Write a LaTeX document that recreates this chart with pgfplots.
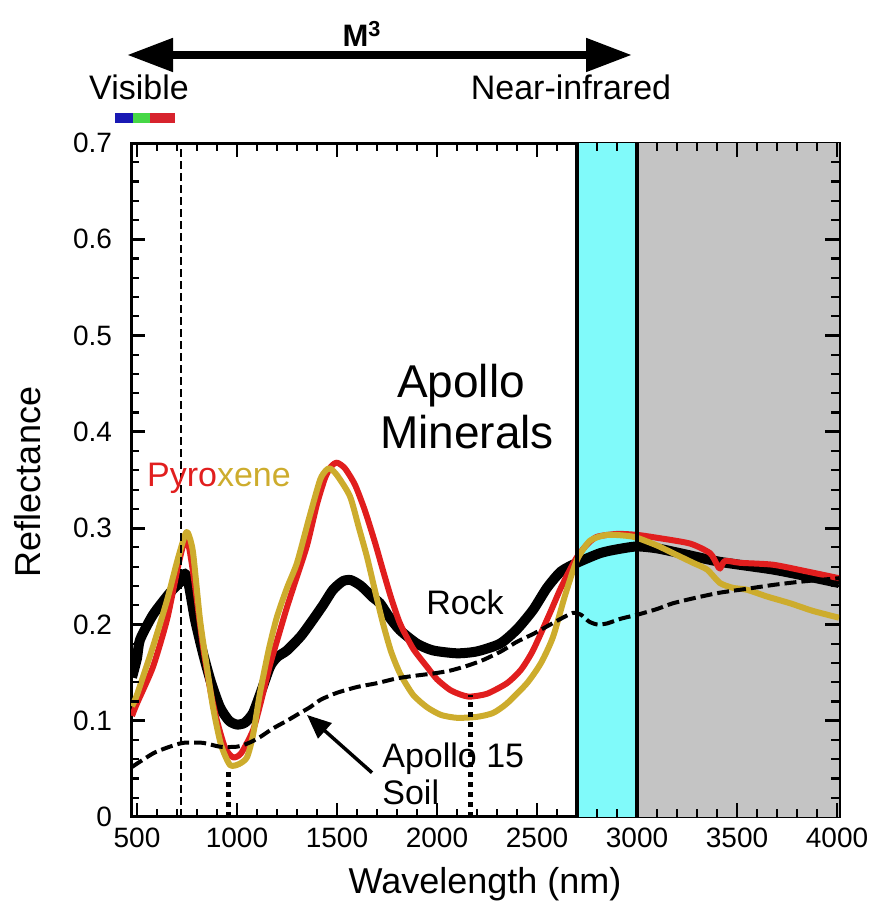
\documentclass[border=0pt]{standalone}
\usepackage{pgfplots}
\pgfplotsset{compat=1.18}
\usepackage{fontspec}
\setmainfont{Liberation Sans}
\usetikzlibrary{arrows.meta}
\definecolor{pyrA}{RGB}{225,30,30}
\definecolor{pyrB}{RGB}{205,172,45}
\definecolor{bandcyan}{RGB}{128,250,250}
\definecolor{bandgray}{RGB}{196,196,196}
\definecolor{visblue}{RGB}{25,25,180}
\definecolor{visgreen}{RGB}{70,215,70}
\definecolor{visred}{RGB}{215,35,45}

\pgfplotstableread{
x y
475 0.105
500 0.118
580 0.156
650 0.205
700 0.255
735 0.285
760 0.280
790 0.240
830 0.177
870 0.128
900 0.100
940 0.072
980 0.062
1020 0.066
1080 0.090
1120 0.120
1165 0.158
1210 0.190
1250 0.218
1300 0.250
1350 0.282
1400 0.325
1440 0.352
1470 0.364
1500 0.368
1540 0.362
1590 0.345
1640 0.318
1690 0.285
1730 0.256
1770 0.228
1815 0.201
1880 0.175
1950 0.156
2000 0.143
2065 0.132
2120 0.127
2165 0.125
2250 0.128
2350 0.139
2420 0.153
2480 0.173
2565 0.212
2615 0.236
2660 0.255
2700 0.270
2750 0.283
2800 0.291
2900 0.294
3000 0.293
3100 0.290
3265 0.284
3365 0.274
3400 0.262
3415 0.258
3440 0.266
3515 0.264
3680 0.262
3850 0.255
4010 0.248
}\tabpyrA

\pgfplotstableread{
x y
475 0.115
500 0.127
580 0.177
650 0.225
700 0.265
740 0.293
755 0.295
780 0.275
815 0.205
850 0.155
880 0.114
920 0.075
965 0.054
1010 0.055
1050 0.062
1080 0.085
1115 0.129
1160 0.175
1200 0.208
1250 0.238
1300 0.264
1360 0.310
1415 0.350
1445 0.360
1465 0.362
1500 0.355
1565 0.333
1610 0.300
1650 0.270
1690 0.235
1730 0.201
1770 0.172
1815 0.149
1880 0.127
1950 0.114
2020 0.106
2100 0.103
2200 0.104
2280 0.108
2350 0.118
2450 0.139
2520 0.160
2580 0.187
2640 0.230
2700 0.267
2765 0.287
2850 0.293
2950 0.292
3000 0.290
3100 0.282
3180 0.274
3280 0.264
3350 0.257
3415 0.243
3480 0.238
3550 0.236
3650 0.229
3765 0.222
3880 0.214
4010 0.207
}\tabpyrB

\pgfplotstableread{
x y
475 0.145
500 0.165
515 0.184
580 0.210
665 0.233
720 0.245
740 0.253
760 0.240
790 0.205
830 0.170
870 0.140
915 0.114
960 0.100
1000 0.096
1040 0.098
1080 0.108
1120 0.130
1165 0.156
1200 0.166
1250 0.173
1320 0.188
1380 0.205
1430 0.220
1480 0.236
1530 0.245
1570 0.246
1620 0.240
1680 0.228
1715 0.222
1760 0.208
1815 0.194
1900 0.180
1980 0.173
2100 0.170
2200 0.172
2315 0.180
2400 0.195
2480 0.215
2550 0.238
2620 0.255
2700 0.264
2815 0.274
2900 0.278
3000 0.281
3100 0.279
3215 0.274
3415 0.265
3680 0.257
3850 0.250
4010 0.243
}\tabrock

\pgfplotstableread{
x y
475 0.052
580 0.066
650 0.072
730 0.077
830 0.077
915 0.073
1000 0.073
1060 0.077
1115 0.083
1180 0.092
1250 0.100
1315 0.108
1365 0.114
1420 0.122
1500 0.129
1600 0.135
1700 0.139
1800 0.144
1900 0.147
1980 0.149
2065 0.152
2150 0.157
2230 0.163
2320 0.172
2400 0.182
2480 0.190
2550 0.198
2620 0.206
2680 0.212
2720 0.210
2760 0.203
2800 0.200
2850 0.201
2920 0.206
3000 0.210
3100 0.216
3180 0.222
3300 0.228
3415 0.233
3550 0.237
3680 0.241
3800 0.244
3900 0.246
4010 0.248
}\tabsoil

\begin{document}
\begin{tikzpicture}
\begin{axis}[
  name=ax,
  at={(65.5pt,46pt)}, anchor=south west,
  scale only axis, width=354pt, height=337pt,
  xmin=470, xmax=4010, ymin=0, ymax=0.7,
  xtick={500,1000,1500,2000,2500,3000,3500,4000},
  ytick={0,0.1,0.2,0.3,0.4,0.5,0.6,0.7},
  minor tick num=0,
  major tick length=0pt,
  axis line style={line width=1.5pt},
  /pgf/number format/assume math mode=true,
  tick label style={font=\fontsize{14}{16}\selectfont},
  xticklabel style={/pgf/number format/1000 sep={}, yshift=-2pt},
  yticklabel style={/pgf/number format/fixed, /pgf/number format/precision=1, xshift=-6pt},
]
\fill[bandgray] (axis cs:3000,0) rectangle (axis cs:4010,0.7);
\fill[bandcyan] (axis cs:2700,0) rectangle (axis cs:3000,0.7);

\addplot[black, line width=5pt, smooth, tension=0.4, line join=round] table[x=x,y=y] {\tabrock};
\addplot[pyrA, line width=3pt, smooth, tension=0.4, line join=round] table[x=x,y=y] {\tabpyrA};
\addplot[pyrB, line width=3pt, smooth, tension=0.4, line join=round] table[x=x,y=y] {\tabpyrB};
\addplot[black, line width=2pt, smooth, tension=0.4, dash pattern=on 6pt off 2.5pt] table[x=x,y=y] {\tabsoil};

\draw[black, line width=2pt] (axis cs:2700,0) -- (axis cs:2700,0.7);
\draw[black, line width=2pt] (axis cs:3000,0) -- (axis cs:3000,0.7);
\draw[black, line width=0.75pt, dash pattern=on 4pt off 2pt] (axis cs:720,0) -- (axis cs:720,0.7);
\draw[black, line width=2.5pt, dash pattern=on 2.5pt off 2.5pt] (axis cs:955,0) -- (axis cs:955,0.049);
\draw[black, line width=2.5pt, dash pattern=on 2.5pt off 2.5pt] (axis cs:2165,0) -- (axis cs:2165,0.127);

\node[anchor=base, font=\fontsize{23}{26}\selectfont] at (axis cs:2120,0.436) {Apollo};
\node[anchor=base, font=\fontsize{23}{26}\selectfont] at (axis cs:2150,0.383) {Minerals};
\node[anchor=base, font=\fontsize{17}{20}\selectfont] at (axis cs:2140,0.210) {Rock};
\node[anchor=base, font=\fontsize{17}{20}\selectfont] at (axis cs:910,0.343) {\textcolor{pyrA}{Pyro}\textcolor{pyrB}{xene}};
\node[anchor=base west, inner sep=0pt, font=\fontsize{17}{20}\selectfont] at (axis cs:1725,0.051) {Apollo 15};
\node[anchor=base west, inner sep=0pt, font=\fontsize{17}{20}\selectfont] at (axis cs:1725,0.0125) {Soil};
\draw[black, line width=1.75pt, -{Triangle[length=12pt,width=10pt]}] (axis cs:1675,0.046) -- (axis cs:1350,0.106);
\end{axis}

% tick marks on all four sides (axis box: 354pt x 337pt; 0.1pt per nm; 481.43pt per unit reflectance)
\begin{scope}[shift={(ax.south west)}]
\foreach \i in {0,...,35} {
  \pgfmathsetmacro{\xx}{(30+100*\i)*0.1}
  \draw[black, line width=1.1pt] (\xx pt,0pt) -- (\xx pt,4pt);
  \draw[black, line width=1.1pt] (\xx pt,337pt) -- (\xx pt,333pt);
}
\foreach \i in {0,...,7} {
  \pgfmathsetmacro{\xx}{(30+500*\i)*0.1}
  \draw[black, line width=1.4pt] (\xx pt,0pt) -- (\xx pt,7pt);
  \draw[black, line width=1.4pt] (\xx pt,337pt) -- (\xx pt,330pt);
}
\foreach \j in {1,...,34} {
  \pgfmathsetmacro{\yy}{\j*337/35}
  \draw[black, line width=1.1pt] (0pt,\yy pt) -- (4pt,\yy pt);
  \draw[black, line width=1.1pt] (354pt,\yy pt) -- (350pt,\yy pt);
}
\foreach \j in {1,...,6} {
  \pgfmathsetmacro{\yy}{\j*337/7}
  \draw[black, line width=1.4pt] (0pt,\yy pt) -- (7pt,\yy pt);
  \draw[black, line width=1.4pt] (354pt,\yy pt) -- (347pt,\yy pt);
}
\end{scope}

% top annotations
\draw[line width=4pt, {Triangle[length=23pt,width=16pt]}-{Triangle[length=23pt,width=16pt]}] (63.5pt,427pt) -- (316pt,427pt);
\node[anchor=base, font=\fontsize{15.5}{18}\selectfont\bfseries] at (181pt,431pt) {M\textsuperscript{3}};
\node[anchor=base, font=\fontsize{17}{20}\selectfont] at (69.5pt,404.5pt) {Visible};
\node[anchor=base, font=\fontsize{17}{20}\selectfont] at (285.5pt,404.5pt) {Near-infrared};
\fill[visblue] (57.5pt,393pt) rectangle (66.5pt,398pt);
\fill[visgreen] (66.5pt,393pt) rectangle (75pt,398pt);
\fill[visred] (75pt,393pt) rectangle (87.5pt,398pt);

% axis labels
\node[anchor=base, rotate=90, font=\fontsize{18}{21}\selectfont] at (20pt,213.5pt) {Reflectance};
\node[anchor=base, font=\fontsize{18}{21}\selectfont] at (242.5pt,8pt) {Wavelength (nm)};
\path (0pt,0pt) rectangle (439.5pt,454.5pt);
\end{tikzpicture}
\end{document}
